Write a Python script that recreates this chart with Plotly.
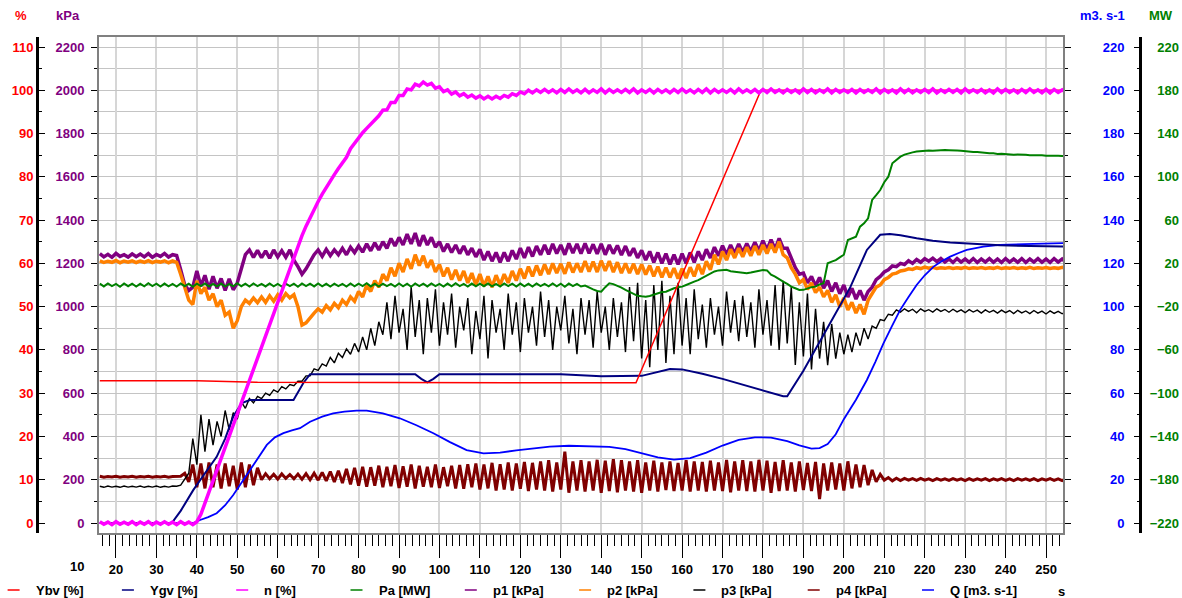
import plotly.graph_objects as go

W, H = 1182, 598

# sample times [s] for the sampled (noisy) channels
t = list(range(16, 257))

# ---- slow channels, read as break points ----
ybv_t = [16, 40, 55, 148.6, 179.5, 256]
ybv = [32.9, 32.9, 32.5, 32.4, 100.0, 100.0]

ygv_t = [16, 33.8, 36, 39.1, 42, 44.9, 47, 49, 51.1, 53.1, 63.9, 66.3, 68, 94, 95.5, 97, 98.5, 100,
         130, 140, 150, 154, 157, 160, 165, 170, 175, 180, 185, 186, 190, 195, 197.4, 201.6, 205.7,
         209, 211.4, 214, 218, 222, 226.3, 232, 238.6, 246, 256]
ygv = [0, 0, 2.8, 7.6, 11.5, 15.3, 19.5, 24.6, 27.7, 28.4, 28.4, 32.3, 34.4, 34.4, 33.3, 32.5, 33.3, 34.4,
       34.4, 33.9, 34.0, 35.0, 35.6, 35.5, 34.5, 33.3, 32.0, 30.7, 29.3, 29.3, 35.2, 43.5, 47.6, 54.5, 63.1,
       66.6, 66.8, 66.5, 65.8, 65.2, 64.8, 64.5, 64.2, 64.0, 63.9]

q_t = [16, 39.1, 40.8, 42.8, 44.9, 47, 49, 51, 53.1, 55.2, 57.3, 59.3, 61.4, 63.5, 65.5, 68, 71, 73.7,
       76.5, 79.5, 82, 86, 90.2, 94.3, 98.5, 102.6, 106.7, 110.9, 115, 119, 123.2, 127.3, 132, 137, 142,
       146, 150, 154, 158, 162, 166, 170, 174, 178, 182, 186, 189, 192, 194, 196, 198, 200, 203, 205.7,
       207.8, 209.8, 211.9, 213.9, 216, 218, 220, 222.2, 224.2, 226.3, 228.4, 230.4, 234.5, 238.6, 246.9, 256]
q = [0, 0, 1.4, 2.7, 4.5, 8.2, 12.9, 18.5, 24.5, 30.5, 36.1, 39.6, 41.5, 42.8, 43.8, 46.8, 49.2, 50.7,
     51.5, 51.9, 51.9, 50.7, 48.4, 45.2, 41.5, 37.4, 33.7, 32.2, 32.5, 33.6, 34.5, 35.3, 35.7, 35.6, 35.2,
     34.1, 32.3, 30.3, 29.3, 30.0, 32.5, 35.8, 38.4, 39.6, 39.5, 37.8, 35.9, 34.4, 34.6, 36.5, 41.0, 48.0, 57.0, 66.1,
     74.5, 83.0, 91.0, 98.4, 104.5, 110.0, 114.5, 118.5, 121.0, 123.1, 124.8, 126.2, 127.7, 128.5, 129.0, 129.4]

# ---- sampled channels, one value per second (16 ... 256 s) ----
n = [0.3, -0.3, 0.2, -0.4, 0.3, -0.3, 0.2, -0.3, 0.3, -0.4,
     0.2, -0.3, 0.3, -0.4, 0.2, -0.3, 0.3, -0.3, 0.2, -0.4,
     0.3, -0.3, 0.2, -0.4, 0.3, 2.0, 4.6, 7.2, 9.7, 12.3,
     14.8, 17.4, 20.0, 22.5, 25.1, 27.7, 30.2, 32.8, 35.4, 38.0,
     40.6, 43.3, 45.9, 48.5, 51.1, 53.7, 56.3, 58.9, 61.5, 64.0,
     66.4, 68.6, 70.6, 72.5, 74.3, 76.0, 77.6, 79.1, 80.5, 81.9,
     83.2, 84.5, 86.5, 87.8, 89.0, 90.2, 91.2, 92.2, 93.2, 94.1,
     95.4, 95.5, 97.2, 97.2, 98.8, 98.8, 100.3, 100.1, 101.4, 101.0,
     101.9, 101.2, 101.6, 100.5, 100.8, 99.7, 100.1, 99.1, 99.6, 98.7,
     99.2, 98.4, 98.9, 98.2, 98.7, 98.0, 98.6, 98.0, 98.6, 98.1,
     98.8, 98.4, 99.2, 98.8, 99.6, 99.2, 100.0, 99.4, 100.1, 99.5,
     100.2, 99.5, 100.1, 99.4, 100.2, 99.5, 100.3, 99.5, 100.1, 99.4,
     100.2, 99.4, 100.1, 99.5, 100.3, 99.4, 100.2, 99.5, 100.1, 99.5,
     100.2, 99.5, 100.3, 99.4, 100.1, 99.5, 100.2, 99.4, 100.2, 99.5,
     100.1, 99.4, 100.2, 99.5, 100.3, 99.5, 100.1, 99.4, 100.2, 99.5,
     100.3, 99.4, 100.2, 99.5, 100.1, 99.5, 100.2, 99.4, 100.3, 99.5,
     100.1, 99.5, 100.2, 99.4, 100.2, 99.5, 100.3, 99.5, 100.1, 99.4,
     100.2, 99.5, 100.1, 99.4, 100.3, 99.5, 100.2, 99.4, 100.1, 99.5,
     100.3, 99.4, 100.2, 99.5, 100.1, 99.5, 100.2, 99.4, 100.2, 99.5,
     100.1, 99.5, 100.3, 99.4, 100.2, 99.5, 100.1, 99.4, 100.3, 99.5,
     100.2, 99.4, 100.1, 99.5, 100.2, 99.5, 100.3, 99.4, 100.1, 99.5,
     100.2, 99.5, 100.2, 99.4, 100.3, 99.5, 100.1, 99.5, 100.2, 99.4,
     100.1, 99.4, 100.3, 99.5, 100.2, 99.5, 100.1, 99.4, 100.2, 99.5,
     100.3, 99.5, 100.1, 99.4, 100.2, 99.4, 100.2, 99.5, 100.1, 99.5,
     100.0]

pa = [1.2, -1.3, 1.5, -1.0, 1.0, -1.6, 1.4, -1.1, 1.3, -1.4,
      1.1, -1.2, 1.6, -1.0, 1.2, -1.5, 1.3, -1.2, 1.0, -1.4,
      1.4, -1.1, 1.2, -1.6, 1.3, -1.0, 1.5, -1.3, 1.1, -1.2,
      1.3, -1.4, 1.0, -1.2, 1.6, -1.1, 1.2, -1.5, 1.4, -1.0,
      1.1, -1.3, 1.5, -1.2, 1.0, -1.4, 1.3, -1.1, 1.2, -1.6,
      1.4, -1.0, 1.2, -1.3, 1.5, -1.2, 1.1, -1.4, 1.3, -1.1,
      1.0, -1.5, 1.4, -1.2, 1.2, -1.0, 1.6, -1.3, 1.1, -1.4,
      1.3, -1.1, 1.0, -1.4, 1.5, -1.2, 1.2, -1.6, 1.4, -1.0,
      1.2, -1.3, 1.4, -1.1, 1.0, -1.5, 1.3, -1.2, 1.6, -1.0,
      1.1, -1.4, 1.3, -1.2, 1.2, -1.1, 1.5, -1.3, 1.0, -1.4,
      1.4, -1.0, 1.2, -1.5, 1.3, -1.2, 1.1, -1.4, 1.5, -1.1,
      1.0, -1.3, 1.4, -1.2, 1.2, -1.6, 1.3, -1.0, 1.1, -1.4,
      -0.5, -2.5, -4.0, -5.5, -6.2, -2.0, 1.6, 0.8, -0.5, -2.5,
      -4.5, -6.5, -8.5, -10.0, -10.5, -10.8, -10.2, -9.0, -7.5, -6.5,
      -6.2, -4.5, -3.0, -2.0, -1.5, 0.0, 1.8, 3.1, 4.5, 6.5,
      8.5, 10.5, 12.5, 13.5, 13.9, 14.0, 12.8, 12.3, 11.5, 11.0,
      10.8, 11.5, 12.5, 13.5, 13.9, 13.5, 9.5, 7.7, 5.0, 3.1,
      1.0, -1.5, -3.0, -4.6, -4.5, -3.0, -2.0, -1.5, 0.5, 1.6,
      20.1, 21.6, 23.0, 25.5, 28.0, 41.6, 43.0, 44.7, 53.9, 57.0,
      61.7, 78.6, 83.0, 87.8, 95.0, 100.1, 112.5, 116.0, 118.6, 120.5,
      121.8, 122.6, 123.3, 123.8, 124.0, 124.3, 124.2, 124.6, 124.5, 124.8,
      124.6, 124.8, 124.3, 124.2, 123.6, 123.5, 123.0, 122.9, 122.3, 122.2,
      121.7, 121.8, 121.2, 121.3, 120.8, 120.9, 120.4, 120.6, 120.1, 120.3,
      119.9, 120.1, 119.7, 119.9, 119.5, 119.7, 119.3, 119.5, 119.2, 119.4,
      119.2]

p1 = [1245, 1230, 1242, 1228, 1246, 1232, 1240, 1229, 1244, 1231,
      1243, 1230, 1245, 1228, 1241, 1232, 1246, 1229, 1240, 1236,
      1170, 1100, 1075, 1090, 1165, 1095, 1145, 1080, 1140, 1085,
      1130, 1075, 1128, 1078, 1110, 1175, 1240, 1262, 1228, 1260,
      1226, 1258, 1224, 1262, 1230, 1258, 1228, 1262, 1215, 1185,
      1150, 1175, 1210, 1240, 1262, 1232, 1265, 1236, 1262, 1240,
      1270, 1240, 1275, 1250, 1280, 1252, 1290, 1258, 1295, 1262,
      1300, 1270, 1315, 1280, 1320, 1285, 1335, 1290, 1340, 1280,
      1330, 1285, 1320, 1275, 1300, 1255, 1290, 1250, 1285, 1245,
      1280, 1240, 1270, 1230, 1265, 1215, 1255, 1210, 1250, 1205,
      1250, 1210, 1260, 1220, 1270, 1225, 1275, 1232, 1280, 1240,
      1285, 1242, 1290, 1245, 1285, 1240, 1292, 1248, 1290, 1245,
      1292, 1246, 1288, 1244, 1290, 1240, 1285, 1245, 1283, 1238,
      1280, 1235, 1270, 1225, 1260, 1215, 1255, 1205, 1250, 1200,
      1245, 1195, 1240, 1195, 1245, 1200, 1250, 1205, 1255, 1215,
      1265, 1225, 1275, 1235, 1282, 1240, 1285, 1245, 1290, 1250,
      1292, 1255, 1298, 1258, 1305, 1262, 1310, 1265, 1315, 1270,
      1270, 1225, 1180, 1150, 1155, 1110, 1140, 1095, 1135, 1085,
      1120, 1070, 1110, 1060, 1100, 1045, 1085, 1035, 1075, 1030,
      1070, 1090, 1125, 1140, 1160, 1170, 1188, 1185, 1200, 1195,
      1212, 1200, 1218, 1205, 1222, 1210, 1224, 1208, 1222, 1206,
      1220, 1204, 1222, 1206, 1220, 1205, 1222, 1204, 1220, 1206,
      1222, 1205, 1220, 1204, 1222, 1206, 1220, 1205, 1222, 1204,
      1220, 1206, 1222, 1205, 1220, 1204, 1222, 1206, 1220, 1205,
      1215]

p2 = [1212, 1204, 1210, 1205, 1213, 1203, 1211, 1206, 1212, 1204,
      1211, 1205, 1213, 1204, 1210, 1206, 1212, 1203, 1211, 1205,
      1150, 1085, 1030, 1010, 1120, 1060, 1090, 1030, 1060, 1000,
      1030, 960, 975, 900, 935, 1000, 1030, 1015, 1040, 1018,
      1045, 1020, 1050, 1025, 1055, 1030, 1060, 1040, 1055, 1000,
      915, 925, 950, 970, 990, 975, 1005, 985, 1015, 995,
      1030, 1010, 1045, 1025, 1070, 1045, 1100, 1070, 1120, 1090,
      1150, 1120, 1180, 1140, 1200, 1160, 1220, 1175, 1240, 1190,
      1235, 1180, 1215, 1160, 1195, 1140, 1180, 1125, 1170, 1120,
      1165, 1110, 1155, 1100, 1150, 1095, 1140, 1090, 1145, 1100,
      1150, 1110, 1165, 1120, 1175, 1130, 1185, 1140, 1190, 1145,
      1195, 1150, 1200, 1155, 1198, 1152, 1205, 1158, 1200, 1160,
      1210, 1162, 1208, 1160, 1212, 1165, 1210, 1160, 1205, 1155,
      1200, 1155, 1198, 1150, 1195, 1148, 1190, 1140, 1185, 1135,
      1180, 1135, 1178, 1130, 1175, 1132, 1182, 1140, 1195, 1150,
      1210, 1170, 1240, 1195, 1255, 1215, 1265, 1225, 1270, 1230,
      1275, 1235, 1280, 1240, 1285, 1245, 1290, 1250, 1300, 1240,
      1225, 1180, 1150, 1110, 1125, 1080, 1110, 1065, 1090, 1045,
      1075, 1020, 1055, 1000, 1040, 985, 1020, 970, 1010, 965,
      1030, 1060, 1090, 1100, 1125, 1135, 1150, 1155, 1165, 1168,
      1175, 1172, 1180, 1176, 1183, 1178, 1182, 1176, 1180, 1177,
      1181, 1176, 1180, 1177, 1182, 1176, 1180, 1177, 1181, 1176,
      1180, 1177, 1182, 1176, 1180, 1177, 1181, 1176, 1180, 1177,
      1182, 1176, 1180, 1177, 1181, 1176, 1180, 1177, 1182, 1176,
      1179]

p3 = [170, 165, 171, 166, 170, 165, 171, 166, 170, 166,
      171, 165, 170, 166, 171, 165, 170, 166, 171, 170,
      175, 200, 230, 390, 270, 500, 330, 480, 360, 470,
      400, 520, 430, 510, 480, 560, 530, 575, 555, 585,
      575, 600, 590, 615, 605, 630, 620, 640, 635, 655,
      655, 680, 680, 712, 705, 735, 725, 765, 740, 785,
      765, 805, 780, 830, 790, 860, 800, 900, 820, 930,
      870, 1020, 850, 1050, 880, 990, 800, 1090, 860, 1030,
      780, 1040, 880, 1080, 820, 1020, 870, 1060, 810, 1000,
      890, 1040, 780, 980, 850, 1050, 760, 1030, 880, 990,
      800, 1060, 870, 1020, 790, 1040, 880, 1000, 820, 1070,
      860, 1030, 800, 1000, 890, 1050, 830, 990, 780, 1040,
      870, 1030, 810, 1070, 880, 1000, 800, 1040, 860, 1020,
      790, 1090, 840, 1110, 760, 1030, 720, 1100, 800, 1120,
      740, 1050, 780, 1110, 820, 1040, 780, 1080, 850, 1010,
      810, 1040, 870, 1000, 820, 1070, 880, 1030, 840, 1050,
      860, 1020, 810, 1080, 870, 1030, 820, 1100, 800, 1120,
      830, 1090, 730, 1020, 770, 1060, 710, 990, 760, 930,
      730, 920, 760, 880, 780, 870, 790, 880, 820, 900,
      850, 910, 900, 940, 935, 965, 960, 985, 975, 990,
      978, 988, 972, 990, 978, 986, 975, 990, 978, 987,
      974, 988, 976, 985, 972, 986, 975, 984, 970, 985,
      974, 983, 970, 984, 972, 982, 968, 983, 971, 980,
      968, 982, 970, 979, 966, 980, 969, 978, 967, 978,
      972]

p4 = [216, 212, 215, 213, 216, 212, 215, 213, 216, 212,
      215, 213, 216, 212, 215, 213, 216, 212, 215, 214,
      216, 230, 190, 270, 165, 275, 160, 280, 165, 270,
      160, 275, 170, 265, 155, 280, 165, 270, 175, 255,
      200, 228, 205, 225, 203, 227, 206, 224, 204, 226,
      202, 228, 200, 230, 198, 234, 195, 238, 190, 242,
      185, 250, 178, 255, 172, 260, 168, 258, 172, 265,
      165, 260, 170, 268, 162, 262, 168, 270, 160, 265,
      168, 260, 165, 270, 162, 258, 170, 265, 160, 268,
      158, 272, 165, 275, 155, 270, 160, 278, 150, 272,
      155, 280, 150, 275, 158, 282, 148, 278, 155, 285,
      150, 290, 145, 280, 155, 330, 140, 285, 150, 290,
      145, 285, 150, 292, 140, 288, 148, 295, 142, 290,
      150, 285, 145, 290, 140, 280, 150, 288, 145, 280,
      152, 285, 148, 278, 150, 290, 145, 285, 150, 282,
      145, 288, 150, 280, 148, 292, 142, 285, 150, 290,
      148, 285, 145, 292, 150, 288, 140, 282, 148, 290,
      150, 280, 145, 285, 152, 278, 148, 282, 110, 275,
      150, 280, 155, 275, 150, 285, 160, 270, 165, 268,
      175, 245, 190, 225, 198, 210, 195, 207, 196, 206,
      198, 205, 197, 206, 198, 204, 196, 205, 198, 204,
      197, 205, 198, 204, 196, 205, 197, 204, 198, 205,
      196, 204, 198, 205, 197, 204, 196, 205, 198, 204,
      197, 205, 196, 204, 198, 205, 197, 204, 196, 205,
      200]

legend_names = ["Ybv [%]", "Ygv [%]", "n [%]", "Pa [MW]", "p1 [kPa]",
                "p2 [kPa]", "p3 [kPa]", "p4 [kPa]", "Q [m3. s-1]"]
legend_colors = ["#ff0000", "#000080", "#ff00ff", "#008000", "#800080",
                 "#ff8000", "#000000", "#800000", "#0000ff"]

FONT = "Liberation Sans, Arial, sans-serif"


def px(x):
    return x / W


def py(y):
    return 1 - y / H


fig = go.Figure()

# kPa channels (bottom layer)
fig.add_trace(go.Scatter(x=t, y=p4, yaxis="y", mode="lines", line=dict(color="#800000", width=3)))
fig.add_trace(go.Scatter(x=t, y=p3, yaxis="y", mode="lines", line=dict(color="#000000", width=1.4)))
fig.add_trace(go.Scatter(x=t, y=p1, yaxis="y", mode="lines", line=dict(color="#800080", width=3.5)))
fig.add_trace(go.Scatter(x=t, y=p2, yaxis="y", mode="lines", line=dict(color="#ff8000", width=3.5)))
# MW
fig.add_trace(go.Scatter(x=t, y=pa, yaxis="y2", mode="lines", line=dict(color="#008000", width=2)))
# m3/s
fig.add_trace(go.Scatter(x=q_t, y=q, yaxis="y3", mode="lines", line=dict(color="#0000ff", width=1.8)))
# %
fig.add_trace(go.Scatter(x=ygv_t, y=ygv, yaxis="y4", mode="lines", line=dict(color="#000080", width=2)))
fig.add_trace(go.Scatter(x=ybv_t, y=ybv, yaxis="y4", mode="lines", line=dict(color="#ff0000", width=1.5)))
fig.add_trace(go.Scatter(x=t, y=n, yaxis="y4", mode="lines", line=dict(color="#ff00ff", width=3.5)))

ydom = [py(533), py(37)]
tick_font = dict(family=FONT, size=13, weight="bold")

fig.update_layout(
    width=W, height=H, margin=dict(l=0, r=0, t=0, b=0), autosize=False,
    paper_bgcolor="white", plot_bgcolor="white", showlegend=False,
    font=dict(family=FONT, size=13, color="black"),
    xaxis=dict(domain=[px(99), px(1063)], range=[15.8, 254.2], tick0=0, dtick=10,
               ticks="outside", ticklen=23, tickwidth=1, tickcolor="black",
               minor=dict(tick0=0, dtick=10 / 6, ticks="outside", ticklen=11, tickcolor="black",
                          showgrid=False),
               showgrid=True, gridcolor="#d6d6d6", gridwidth=2,
               showline=True, linecolor="#808080", linewidth=2, mirror=True, zeroline=False,
               tickfont=dict(tick_font, color="black"), ticklabelstandoff=0),
    yaxis=dict(domain=ydom, range=[-46.2, 2246.2], tick0=0, dtick=200, side="left",
               ticks="outside", ticklen=6, tickcolor="black",
               minor=dict(tick0=0, dtick=100, ticks="outside", ticklen=3, tickcolor="black",
                          showgrid=True, gridcolor="#c4c4c4", gridwidth=1),
               showgrid=True, gridcolor="#c4c4c4", gridwidth=1,
               showline=True, linecolor="#808080", linewidth=2, mirror="ticks", zeroline=False,
               tickfont=dict(tick_font, color="#800080"), ticklabelstandoff=4),
    yaxis2=dict(overlaying="y", anchor="free", position=1.0, side="left",
                range=[-229.24, 229.24], tick0=-220, dtick=40, ticks="", showline=False,
                showgrid=False, zeroline=False,
                tickfont=dict(tick_font, color="#008000"), ticklabelstandoff=3),
    yaxis3=dict(overlaying="y", anchor="free", position=px(1140), side="left",
                range=[-4.62, 224.62], tick0=0, dtick=20, ticks="outside", ticklen=5,
                tickcolor="black",
                minor=dict(tick0=0, dtick=10, ticks="outside", ticklen=2, tickcolor="black"),
                showline=True, linecolor="black", linewidth=3, showgrid=False, zeroline=False,
                tickfont=dict(tick_font, color="#0000ff"), ticklabelstandoff=7),
    yaxis4=dict(overlaying="y", anchor="free", position=px(37), side="left",
                range=[-2.31, 112.31], tick0=0, dtick=10, ticks="inside", ticklen=6,
                tickcolor="black",
                minor=dict(tick0=0, dtick=5, ticks="inside", ticklen=3, tickcolor="black"),
                showline=True, linecolor="black", linewidth=3, showgrid=False, zeroline=False,
                tickfont=dict(tick_font, color="#ff0000"), ticklabelstandoff=0),
)

bold = dict(family=FONT, size=13, weight="bold")

# axis unit titles
for txt, x, col in [("%", 21, "#ff0000"), ("kPa", 68, "#800080"),
                    ("m3. s-1", 1102, "#0000ff"), ("MW", 1161, "#008000")]:
    fig.add_annotation(x=px(x), y=py(16), xref="paper", yref="paper", text=txt, showarrow=False,
                       xanchor="center", yanchor="middle", font=dict(bold, color=col))

# first x label sits outside the plot frame
fig.add_annotation(x=px(77), y=py(566), xref="paper", yref="paper", text="10", showarrow=False,
                   xanchor="center", yanchor="middle", font=dict(tick_font, color="black"))

# legend row
for i, (name, col) in enumerate(zip(legend_names, legend_colors)):
    x0 = 7.6 + i * 114.3
    fig.add_shape(type="line", xref="paper", yref="paper", x0=px(x0), x1=px(x0 + 12),
                  y0=py(590), y1=py(590), line=dict(color=col, width=1.5))
    fig.add_annotation(x=px(x0 + 26), y=py(590), xref="paper", yref="paper", text=name,
                       showarrow=False, xanchor="left", yanchor="middle",
                       font=dict(bold, color="black"))
fig.add_annotation(x=px(1056), y=py(591), xref="paper", yref="paper", text="s", showarrow=False,
                   xanchor="left", yanchor="middle", font=dict(bold, color="black"))

# page margin would push the fixed-size figure out of the window
fig.write_html("out.html", config={"displayModeBar": False},
               post_script="document.body.style.margin='0px';")
